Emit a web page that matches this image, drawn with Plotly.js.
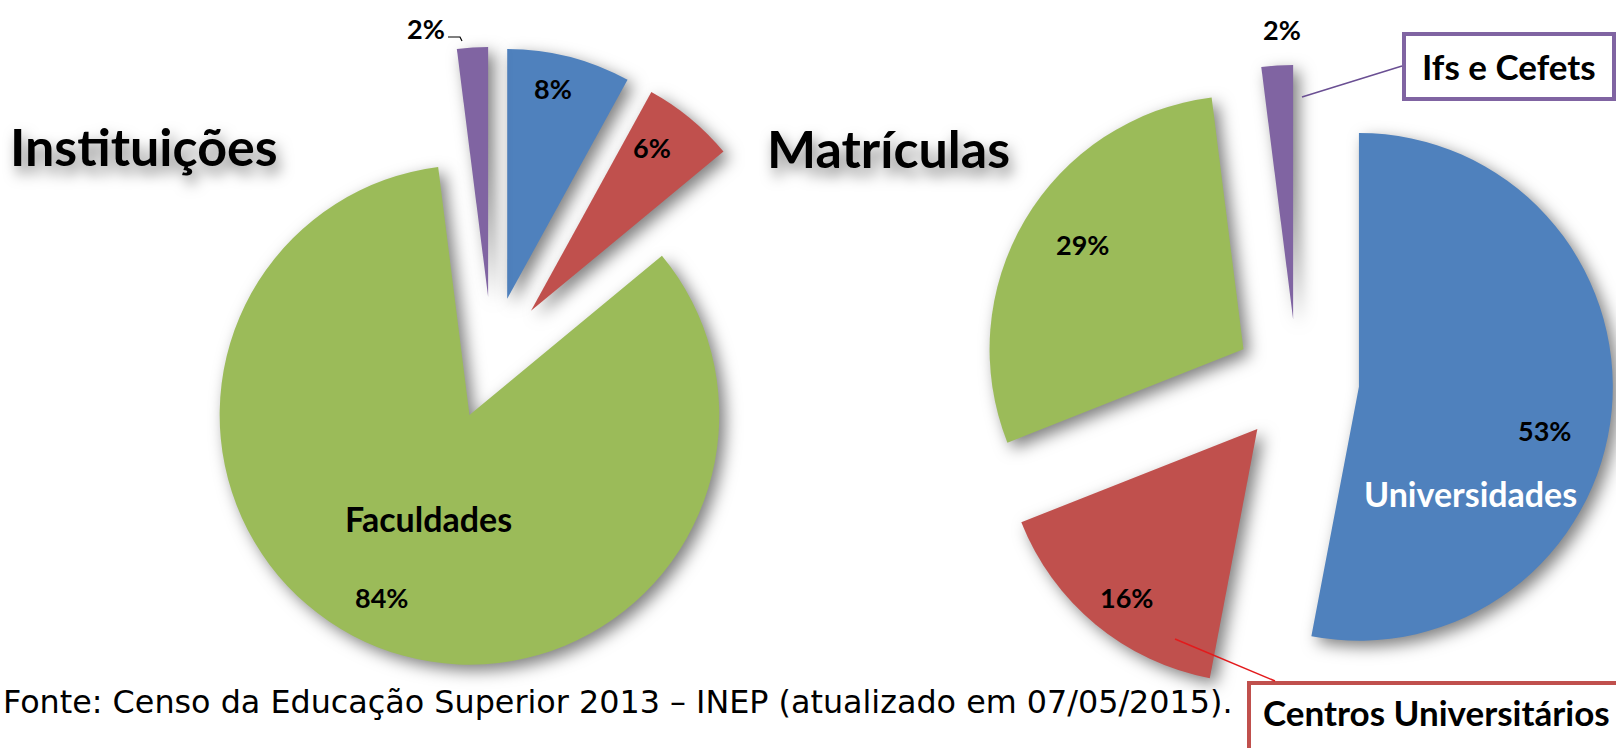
<!DOCTYPE html>
<html>
<head>
<meta charset="utf-8">
<script src="https://cdn.plot.ly/plotly-3.0.1.min.js"></script>
<style>
  html, body { margin: 0; padding: 0; background: #ffffff; }
  #chart { width: 1616px; height: 748px; }
  .pielayer path.surface { filter: drop-shadow(6px 6px 8px rgba(0,0,0,0.5)); }
  .annotation[data-index="0"] text, .annotation[data-index="1"] text { filter: drop-shadow(4px 8px 7px rgba(0,0,0,0.5)); }
</style>
</head>
<body>
<div id="chart"></div>
<script>
// ---- data ----
const categories = ['Universidades', 'Centros Universitários', 'Faculdades', 'Ifs e Cefets'];
const instituicoes = [8, 6, 84, 2];
const matriculas = [53, 16, 29, 2];
const chartTitles = ['Instituições', 'Matrículas'];
const sourceNote = 'Fonte: Censo da Educação Superior 2013 – INEP (atualizado em 07/05/2015).';

// ---- styles ----
const sliceColors = ['#4f81bd', '#c0504d', '#9bbb59', '#8064a2'];
const W = 1616, H = 748;
const px = x => x / W;
const py = y => 1 - y / H;
const FAM = 'Lato, "Open Sans", sans-serif';
const pctFont = { family: FAM, size: 27, color: '#000000', weight: 700 };
const catFont = { family: FAM, size: 34, color: '#000000', weight: 700 };
const pullAll = 0.245;

function pieTrace(values, dx, dy) {
  return {
    type: 'pie',
    labels: categories,
    values: values,
    sort: false,
    direction: 'clockwise',
    rotation: 0,
    pull: values.map(() => pullAll),
    marker: { colors: sliceColors, line: { width: 0 } },
    textinfo: 'none',
    hoverinfo: 'label+percent',
    showlegend: false,
    domain: { x: dx, y: dy }
  };
}

// left pie: centre (492,358) r=250 ; right pie: centre (1297,381) r=254
const data = [
  pieTrace(instituicoes, [0.1120, 0.4969], [0.1056, 0.9372]),
  pieTrace(matriculas, [0.6070, 0.9982], [0.0680, 0.9134])
];

function ann(text, x, y, font, extra) {
  return Object.assign({ text: text, x: px(x), y: py(y), xref: 'paper', yref: 'paper',
    showarrow: false, xanchor: 'center', yanchor: 'middle', font: font }, extra || {});
}
const titleFont = { family: FAM, size: 52, color: '#000000', weight: 700 };
const boxFont = { family: FAM, size: 35, color: '#000000', weight: 700 };

const annotations = [
  ann(chartTitles[0], 144, 146, titleFont),
  ann(chartTitles[1], 888, 148, titleFont),
  // Instituições labels
  ann(instituicoes[3] + '%', 426, 28, pctFont),
  ann(instituicoes[0] + '%', 553, 88, pctFont),
  ann(instituicoes[1] + '%', 652, 147, pctFont),
  ann(categories[2], 428, 518, catFont),
  ann(instituicoes[2] + '%', 381, 597, pctFont),
  // Matrículas labels
  ann(matriculas[3] + '%', 1282, 29, pctFont),
  ann(matriculas[2] + '%', 1082, 245, pctFont),
  ann(matriculas[0] + '%', 1544, 430, pctFont),
  ann(categories[0], 1470, 493, Object.assign({}, catFont, { color: '#ffffff' })),
  ann(matriculas[1] + '%', 1126, 597, pctFont),
  // callout boxes
  ann(categories[3], 1509, 66, boxFont),
  ann(categories[1], 1436, 712, boxFont),
  // source
  ann(sourceNote, 1235, 701, { family: '"DejaVu Sans", Verdana, sans-serif', size: 31.8, color: '#000000' }, { xanchor: 'right' })
];

const shapes = [
  // Ifs e Cefets callout
  { type: 'rect', xref: 'paper', yref: 'paper', x0: px(1404), x1: px(1614), y0: py(34), y1: py(99),
    fillcolor: 'rgba(0,0,0,0)', line: { color: '#8064a2', width: 4 } },
  { type: 'line', xref: 'paper', yref: 'paper', x0: px(1402), y0: py(66), x1: px(1302), y1: py(97),
    line: { color: '#6a4f93', width: 1.5 } },
  // Centros Universitários callout
  { type: 'rect', xref: 'paper', yref: 'paper', x0: px(1249), x1: px(1650), y0: py(683), y1: py(790),
    fillcolor: 'rgba(0,0,0,0)', line: { color: '#c0504d', width: 4 } },
  { type: 'line', xref: 'paper', yref: 'paper', x0: px(1175), y0: py(639), x1: px(1275), y1: py(681),
    line: { color: '#e31a1c', width: 1.5 } },
  // 2% leader (Instituições)
  { type: 'path', xref: 'paper', yref: 'paper',
    path: 'M ' + px(448) + ' ' + py(37) + ' L ' + px(460) + ' ' + py(37) + ' L ' + px(462) + ' ' + py(41),
    line: { color: '#000000', width: 1.2 } }
];

const layout = {
  width: W, height: H,
  margin: { l: 0, r: 0, t: 0, b: 0, pad: 0 },
  paper_bgcolor: '#ffffff',
  plot_bgcolor: '#ffffff',
  showlegend: false,
  annotations: annotations,
  shapes: shapes
};

Plotly.newPlot('chart', data, layout, { displayModeBar: false, staticPlot: true });
</script>
</body>
</html>
